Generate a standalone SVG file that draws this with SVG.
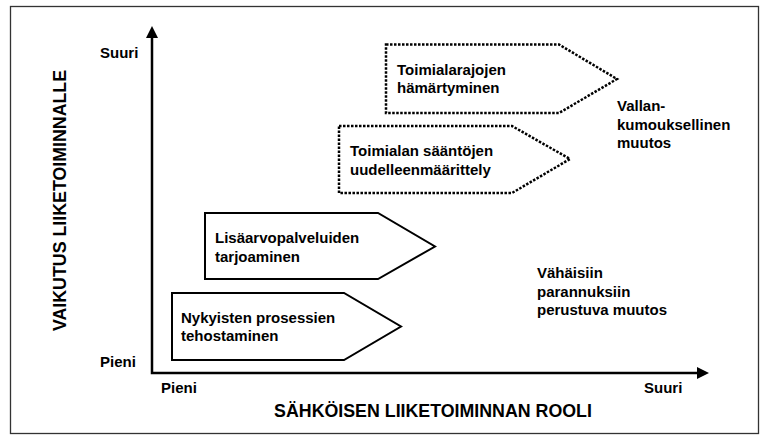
<svg xmlns="http://www.w3.org/2000/svg" width="768" height="438" viewBox="0 0 768 438">
<defs>
<style>
text{font-family:"Liberation Sans",Arial,sans-serif;font-weight:bold;fill:#000;}
.lbl{font-size:15px;}
.title{font-size:17.8px;}
.solid{fill:#fff;stroke:#000;stroke-width:2;stroke-linejoin:miter;}
.dotted{fill:#fff;stroke:#000;stroke-width:2.5;stroke-dasharray:2.5 1.5;}
.axis{fill:none;stroke:#000;stroke-width:2.5;}
</style>
<marker id="arr" viewBox="0 0 12 12" refX="0" refY="6" markerWidth="12" markerHeight="12" markerUnits="userSpaceOnUse" orient="auto-start-reverse">
<path d="M0,0 L12,6 L0,12 Z" fill="#000"/>
</marker>
</defs>
<rect width="768" height="438" fill="#fff"/>
<rect x="10.5" y="6.5" width="748" height="427" fill="none" stroke="#333" stroke-width="1.3"/>

<g id="connectors">
<path class="axis" d="M152,38 V373 H697" marker-start="url(#arr)" marker-end="url(#arr)"/>
</g>

<g id="axis-labels">
<text class="lbl" x="100" y="58">Suuri</text>
<text class="lbl" x="100" y="366.5">Pieni</text>
<text class="lbl" x="161" y="393">Pieni</text>
<text class="lbl" x="644" y="393">Suuri</text>
<text class="title" x="433" y="417" text-anchor="middle">SÄHKÖISEN LIIKETOIMINNAN ROOLI</text>
<text class="title" transform="translate(65.5,200.5) rotate(-90)" text-anchor="middle">VAIKUTUS LIIKETOIMINNALLE</text>
</g>

<g id="node-hamartyminen">
<path class="dotted" d="M386,44.5 H559 L617,79 L559,113 H386 Z"/>
<text class="lbl" x="397" y="75">Toimialarajojen</text>
<text class="lbl" x="397" y="93">hämärtyminen</text>
</g>

<g id="node-saannot">
<path class="dotted" d="M339,126 H512 L570,159 L512,193 H339 Z"/>
<text class="lbl" x="350" y="156">Toimialan sääntöjen</text>
<text class="lbl" x="350" y="174.5">uudelleenmäärittely</text>
</g>

<g id="node-lisaarvo">
<path class="solid" d="M205,213 H378 L435,246.5 L378,279 H205 Z"/>
<text class="lbl" x="215" y="243">Lisäarvopalveluiden</text>
<text class="lbl" x="215" y="261.5">tarjoaminen</text>
</g>

<g id="node-nykyisten">
<path class="solid" d="M172,293 H344 L401,326.5 L344,360 H172 Z"/>
<text class="lbl" x="181" y="322.5">Nykyisten prosessien</text>
<text class="lbl" x="181" y="341">tehostaminen</text>
</g>

<g id="note-vallankumous">
<text class="lbl" x="617" y="111">Vallan-</text>
<text class="lbl" x="617" y="129.5">kumouksellinen</text>
<text class="lbl" x="617" y="148">muutos</text>
</g>

<g id="note-vahaisiin">
<text class="lbl" x="537" y="278">Vähäisiin</text>
<text class="lbl" x="537" y="296.5">parannuksiin</text>
<text class="lbl" x="537" y="315">perustuva muutos</text>
</g>
</svg>
